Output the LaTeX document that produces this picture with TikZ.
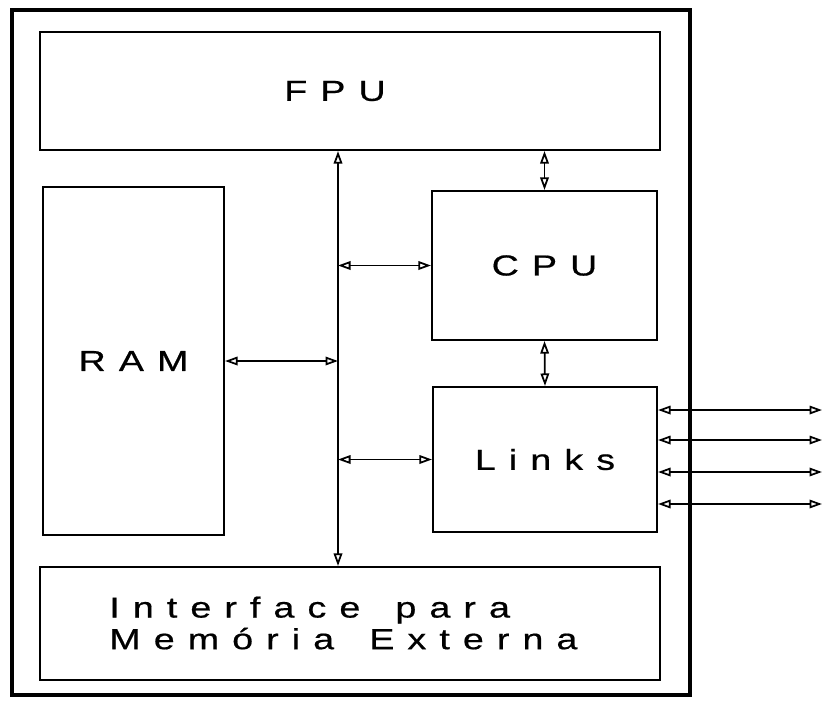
\documentclass[tikz,border=0pt]{standalone}
\usepackage{fontspec}
\setmainfont{Liberation Sans}
\newfontfamily\spaced[LetterSpace=45,FakeStretch=1.3,FakeBold=0.6]{Liberation Sans}
\usetikzlibrary{arrows.meta,positioning,calc}
\tikzset{
	unit/.style = {
		draw,
		rectangle,
		line width=1.2pt,
		align=center,
		inner sep=0pt,
		font=\spaced\fontsize{16.5}{18}\selectfont
	},
	link/.style = {
		{Triangle[open,length=2.5mm,width=1.7mm]}-{Triangle[open,length=2.5mm,width=1.7mm]},
		line width=1pt
	}
}
\begin{document}
\begin{tikzpicture}[x=0.02cm, y=-0.02cm]
		
		\useasboundingbox (0,0) rectangle (822,704);
		
		% --- Caixa do chip ---
		\draw[line width=1.9pt] (12,10) rectangle (690,695);
		
		\node [unit, minimum width=12.4cm, minimum height=2.36cm] (fpu) at (350,91) {FPU\hspace*{0.6cm}};
		\node [unit, minimum width=3.62cm, minimum height=6.96cm] (ram) at (133.5,361) {RAM};
		\node [unit, minimum width=4.5cm, minimum height=2.98cm] (cpu) at (544.5,265.5) {CPU};
		\node [unit, minimum width=4.48cm, minimum height=2.9cm] (links) at (545,459.5) {Links};
		\node [unit, minimum width=12.4cm, minimum height=2.26cm] (iface) at (350,623.5) {};
		\node [font=\spaced\fontsize{16.5}{18}\selectfont, align=left, anchor=west, inner sep=0pt] (ifacetext) at (109,623) {Interface\hspace{0.4em} para\\Memória\hspace{0.4em} Externa};
		
		% --- Barramento ---
		\coordinate (bus) at (338,360);
		\coordinate (ext) at (822,460);
		\draw [link] (bus |- fpu.south) -- (bus |- iface.north);
		\draw [link] (ram.east) -- (ram.east -| bus);
		\draw [link] (cpu.west -| bus) -- (cpu.west);
		\draw [link] (links.west -| bus) -- (links.west);
		\draw [link] (cpu.north) -- (cpu.north |- fpu.south);
		\draw [link] (cpu.south) -- (links.north);
		
		% Ligações externas dos links
		\foreach \s in {0.99,0.39,-0.25,-0.89} {
			\coordinate (lk) at ([yshift=\s cm]links.east);
			\draw [link] (lk) -- (lk -| ext);
		}
		
	\end{tikzpicture}
\end{document}
